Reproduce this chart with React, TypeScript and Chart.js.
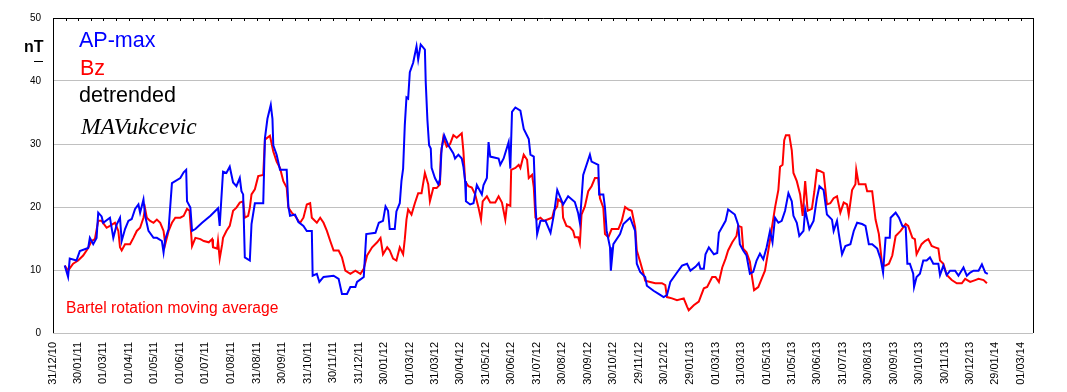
import React, { useEffect, useRef } from "react";
import { Chart, registerables } from "chart.js";

Chart.register(...registerables);

// X tick labels (dd/mm/yy); tick positions are derived from these dates
const xTickLabels = [
  "31/12/10", "30/01/11", "01/03/11", "01/04/11", "01/05/11", "01/06/11", "01/07/11", "01/08/11",
  "31/08/11", "30/09/11", "31/10/11", "30/11/11", "31/12/11", "30/01/12", "01/03/12", "31/03/12",
  "30/04/12", "31/05/12", "30/06/12", "31/07/12", "30/08/12", "30/09/12", "30/10/12", "29/11/12",
  "30/12/12", "29/01/13", "01/03/13", "31/03/13", "01/05/13", "31/05/13", "30/06/13", "31/07/13",
  "30/08/13", "30/09/13", "30/10/13", "30/11/13", "30/12/13", "29/01/14", "01/03/14",
];

const yTicks = [0, 10, 20, 30, 40, 50];

// Days since 31/12/2010
const apDays = [
  14, 18, 20, 28, 32, 42, 44, 48, 52, 54, 58, 60, 68, 72, 76, 80, 82, 86, 90, 94, 98, 102, 104, 108, 110, 114,
  120, 124, 130, 132, 134, 138, 142, 152, 156, 159, 160, 164, 166, 170, 178, 188, 197, 199, 203, 207, 211, 215,
  219, 223, 225, 227, 229, 235, 237, 241, 251, 253, 256, 260, 262, 263, 267, 271, 279, 281, 283, 289, 293, 299,
  303, 309, 310, 315, 318, 323, 335, 341, 345, 351, 355, 361, 363, 371, 374, 385, 389, 394, 397, 400, 402, 408,
  410, 414, 416, 418, 420, 422, 424, 426, 430, 432, 434, 436, 439, 444, 445, 447, 449, 451, 452, 456, 460, 462,
  464, 467, 472, 478, 480, 484, 488, 490, 492, 493, 498, 502, 506, 512, 514, 518, 520, 522, 532, 534, 538, 544,
  546, 548, 552, 558, 562, 568, 570, 574, 576, 578, 582, 588, 594, 598, 602, 606, 609, 615, 623, 627, 629, 633,
  641, 643, 651, 652, 657, 659, 661, 665, 666, 669, 677, 681, 689, 695, 697, 701, 707, 709, 717, 723, 729, 733,
  737, 745, 751, 757, 761, 767, 771, 773, 777, 779, 783, 789, 793, 795, 803, 806, 814, 818, 820, 824, 828, 832,
  836, 840, 844, 848, 852, 856, 859, 862, 866, 870, 874, 878, 882, 884, 888, 891, 896, 898, 900, 903, 908, 912,
  915, 920, 924, 930, 932, 936, 938, 942, 946, 952, 956, 960, 966, 970, 974, 978, 984, 988, 991, 994, 999, 1000,
  1006, 1010, 1014, 1018, 1020, 1023, 1027, 1028, 1031, 1035, 1039, 1043, 1047, 1051, 1057, 1059, 1063, 1067,
  1071, 1077, 1081, 1087, 1091, 1095, 1099, 1105, 1109, 1113, 1116,
];
const apMax = [
  10.7, 8.9, 11.8, 11.5, 13.0, 13.5, 15.1, 14.1, 15.1, 19.1, 18.5, 17.5, 18.3, 15.1, 17.2, 18.3, 14.6, 16.5, 17.8,
  18.1, 19.7, 20.4, 19.1, 21.2, 18.6, 16.2, 15.1, 15.1, 14.6, 12.8, 14.9, 16.5, 23.8, 24.6, 25.5, 25.9, 20.9, 19.9,
  16.2, 16.5, 17.5, 18.6, 19.8, 17.0, 25.6, 25.4, 26.4, 23.9, 23.3, 24.6, 22.5, 22.0, 12.0, 11.5, 17.3, 20.6, 20.6,
  30.9, 34.0, 36.2, 34.0, 29.8, 28.3, 25.9, 25.9, 20.1, 18.6, 18.8, 17.6, 17.0, 16.2, 16.2, 9.1, 9.4, 8.1, 8.9,
  9.1, 8.6, 6.2, 6.2, 7.3, 7.3, 8.1, 8.9, 15.7, 15.9, 17.5, 17.8, 20.1, 19.4, 16.5, 16.5, 19.3, 20.6, 24.1, 26.1,
  33.0, 37.4, 37.2, 41.4, 42.9, 44.2, 45.5, 43.4, 45.8, 45.0, 39.8, 33.8, 29.8, 29.3, 26.2, 24.6, 23.6, 24.4, 29.3,
  31.4, 29.8, 28.5, 27.7, 28.3, 27.7, 26.4, 24.1, 20.9, 20.4, 20.6, 23.5, 22.0, 23.5, 24.6, 30.3, 28.0, 27.7, 26.7,
  27.7, 30.3, 26.1, 35.1, 35.8, 35.3, 32.4, 30.8, 28.3, 28.0, 20.4, 15.7, 17.8, 17.8, 15.9, 18.8, 22.7, 21.4, 20.4,
  21.7, 20.8, 19.0, 17.5, 25.1, 28.3, 27.2, 26.7, 22.0, 22.0, 19.9, 16.2, 13.6, 9.9, 14.1, 15.7, 17.3, 18.3, 16.2,
  11.0, 9.7, 8.9, 7.5, 6.7, 6.2, 5.7, 6.0, 8.1, 9.6, 10.7, 11.0, 9.9, 10.5, 11.1, 10.2, 10.2, 12.5, 13.6, 12.5,
  12.7, 15.9, 17.8, 19.6, 18.8, 17.2, 14.1, 13.1, 12.3, 9.4, 9.7, 11.5, 12.6, 11.7, 13.6, 16.2, 14.4, 18.3, 17.5,
  17.8, 19.4, 22.2, 20.9, 18.6, 17.5, 15.4, 16.2, 19.6, 18.3, 16.5, 17.8, 21.4, 23.3, 22.7, 18.8, 18.0, 16.2, 17.8,
  15.9, 12.5, 13.8, 14.1, 16.2, 17.5, 17.3, 17.0, 14.1, 14.1, 13.4, 11.8, 9.6, 15.1, 15.1, 18.3, 19.1, 18.3, 17.0,
  16.8, 11.0, 11.0, 9.4, 7.3, 8.9, 9.4, 11.5, 11.5, 12.0, 11.0, 11.0, 9.2, 10.7, 9.2, 9.9, 9.9, 9.1, 10.4, 9.1,
  9.6, 9.9, 9.9, 10.9, 9.6, 9.4,
];

const bzDays = [
  14, 18, 24, 30, 36, 42, 46, 50, 54, 58, 64, 68, 74, 78, 80, 82, 86, 92, 96, 100, 104, 108, 110, 112, 116, 120,
  124, 128, 132, 134, 138, 142, 146, 152, 156, 160, 163, 166, 170, 176, 180, 186, 190, 191, 196, 197, 199, 202,
  203, 207, 211, 215, 219, 223, 227, 229, 233, 235, 237, 241, 245, 251, 253, 259, 263, 267, 271, 275, 279, 281,
  285, 289, 293, 295, 299, 303, 307, 309, 315, 319, 323, 327, 331, 335, 341, 345, 349, 355, 361, 367, 371, 375,
  381, 387, 391, 394, 399, 402, 406, 410, 414, 418, 420, 422, 424, 428, 432, 436, 440, 444, 448, 450, 454, 458,
  462, 463, 466, 470, 474, 478, 482, 488, 490, 492, 496, 500, 504, 508, 511, 513, 518, 522, 528, 532, 536, 540,
  542, 546, 547, 552, 556, 558, 562, 566, 568, 572, 574, 576, 578, 582, 586, 592, 596, 598, 602, 603, 608, 609,
  613, 617, 621, 623, 627, 629, 631, 635, 639, 643, 647, 651, 653, 657, 659, 663, 667, 675, 679, 683, 687, 691,
  695, 697, 701, 705, 707, 713, 719, 727, 731, 733, 739, 745, 753, 757, 759, 765, 771, 777, 781, 787, 791, 795,
  799, 803, 806, 811, 816, 818, 822, 824, 828, 832, 834, 837, 842, 846, 850, 854, 858, 862, 866, 868, 871, 873,
  875, 879, 882, 884, 888, 892, 895, 898, 901, 906, 909, 912, 916, 920, 924, 928, 932, 936, 940, 944, 948, 950,
  954, 958, 959, 962, 970, 972, 978, 982, 986, 990, 994, 998, 1002, 1006, 1012, 1018, 1021, 1026, 1029, 1031,
  1037, 1041, 1045, 1049, 1053, 1057, 1059, 1063, 1067, 1073, 1079, 1085, 1089, 1095, 1101, 1105, 1111, 1115,
];
const bz = [
  10.7, 9.9, 11.0, 11.5, 12.3, 13.5, 14.6, 14.9, 17.8, 17.8, 16.7, 17.0, 17.5, 16.2, 13.6, 13.1, 14.1, 14.1, 15.1,
  16.2, 16.7, 18.3, 19.7, 18.3, 17.8, 17.5, 18.0, 17.5, 16.2, 14.1, 16.2, 17.5, 18.3, 18.3, 18.6, 19.7, 19.4, 13.8,
  15.1, 14.9, 14.6, 14.4, 14.9, 13.6, 13.4, 14.6, 11.8, 14.1, 15.1, 16.2, 17.0, 19.4, 19.9, 20.7, 20.9, 18.3, 18.6,
  19.9, 22.0, 22.8, 24.9, 25.1, 30.7, 31.3, 28.8, 27.2, 26.2, 24.1, 23.1, 19.9, 19.1, 18.6, 17.8, 17.5, 18.3, 20.4,
  20.6, 18.3, 17.5, 18.3, 17.5, 16.2, 14.6, 13.1, 13.1, 12.0, 9.9, 9.4, 9.9, 9.4, 10.2, 12.3, 13.6, 14.4, 15.1,
  12.5, 13.6, 13.1, 11.8, 11.5, 13.6, 12.5, 14.9, 18.0, 19.6, 18.8, 20.6, 22.2, 22.2, 25.4, 23.6, 20.9, 23.0, 23.0,
  23.6, 28.3, 31.1, 29.6, 30.0, 31.4, 31.0, 31.7, 28.8, 24.1, 23.3, 23.1, 22.0, 19.9, 18.0, 20.9, 21.7, 20.7, 20.7,
  21.7, 20.7, 18.0, 20.4, 20.2, 25.9, 26.2, 26.7, 26.2, 28.3, 27.5, 24.6, 25.1, 23.1, 18.3, 18.0, 18.3, 17.8, 18.1,
  18.3, 19.4, 20.1, 21.2, 20.7, 18.3, 17.0, 16.8, 16.2, 15.2, 15.2, 14.2, 18.8, 20.1, 22.5, 23.3, 24.6, 24.6, 21.4,
  19.9, 15.7, 15.2, 16.5, 16.5, 17.8, 20.0, 19.6, 19.4, 16.8, 13.1, 11.3, 9.4, 8.3, 8.1, 7.9, 7.9, 7.6, 5.7, 5.5,
  5.2, 5.5, 4.2, 3.6, 4.4, 5.0, 7.1, 7.3, 8.9, 8.9, 8.1, 10.4, 11.8, 13.1, 14.4, 15.4, 17.0, 16.8, 13.4, 12.8, 11.3,
  9.4, 6.8, 7.3, 8.6, 9.9, 13.1, 16.5, 19.9, 22.7, 26.4, 26.7, 30.6, 31.4, 31.4, 29.0, 25.4, 24.1, 22.0, 18.6, 24.1,
  19.4, 19.7, 22.5, 25.9, 25.7, 25.4, 20.4, 20.6, 21.4, 21.7, 19.1, 20.7, 20.4, 18.8, 22.7, 23.6, 25.9, 23.6, 23.6,
  22.5, 22.5, 18.0, 15.7, 10.7, 10.7, 11.0, 12.3, 15.4, 16.2, 17.3, 17.0, 15.1, 14.9, 12.5, 14.1, 14.6, 14.9, 13.8,
  13.6, 13.4, 11.5, 11.0, 9.2, 8.4, 7.9, 7.9, 8.6, 8.1, 8.4, 8.6, 8.4, 7.9,
];

const X_MIN = 0;
const X_MAX = 1170;

function dayOf(label: string): number {
  const [d, m, y] = label.split("/").map((s) => parseInt(s, 10));
  const t = Date.UTC(2000 + y, m - 1, d);
  const t0 = Date.UTC(2010, 11, 31);
  return Math.round((t - t0) / 86400000);
}

const xTickDays = xTickLabels.map(dayOf);

const annotationPlugin = {
  id: "annotations",
  afterDraw(chart: any) {
    const { ctx, chartArea } = chart;
    const { left, right, top, bottom } = chartArea;
    ctx.save();
    ctx.strokeStyle = "#000";
    ctx.lineWidth = 1;
    ctx.beginPath();
    ctx.moveTo(left + 0.5, top);
    ctx.lineTo(left + 0.5, bottom);
    ctx.moveTo(right + 0.5, top);
    ctx.lineTo(right + 0.5, bottom);
    ctx.moveTo(left, top + 0.5);
    ctx.lineTo(right + 1, top + 0.5);
    ctx.stroke();
    // small ticks along the top, at tick positions and midpoints
    const xs = chart.scales.x;
    ctx.beginPath();
    for (let i = 0; i < xTickDays.length; i++) {
      const p = Math.round(xs.getPixelForValue(xTickDays[i])) + 0.5;
      ctx.moveTo(p, top);
      ctx.lineTo(p, top + 3);
      if (i < xTickDays.length - 1) {
        const q = Math.round(xs.getPixelForValue((xTickDays[i] + xTickDays[i + 1]) / 2)) + 0.5;
        ctx.moveTo(q, top);
        ctx.lineTo(q, top + 3);
      }
    }
    ctx.stroke();

    ctx.fillStyle = "#000";
    ctx.font = "bold 16px 'Liberation Sans', Arial, sans-serif";
    ctx.textAlign = "left";
    ctx.textBaseline = "alphabetic";
    ctx.fillText("nT", 24, 52);
    ctx.fillRect(34, 61, 9, 1);

    ctx.font = "21.5px 'Liberation Sans', Arial, sans-serif";
    ctx.fillStyle = "#0000ff";
    ctx.fillText("AP-max", 79, 47);
    ctx.fillStyle = "#ff0000";
    ctx.fillText("Bz", 80, 75);
    ctx.fillStyle = "#000";
    ctx.fillText("detrended", 79, 102);
    ctx.font = "italic 23.5px 'Liberation Serif', 'DejaVu Serif', serif";
    ctx.fillText("MAVukcevic", 81, 134);

    ctx.font = "15.6px 'Liberation Sans', Arial, sans-serif";
    ctx.fillStyle = "#ff0000";
    ctx.fillText("Bartel rotation moving average", 66, 313);
    ctx.restore();
  },
};

export default function App() {
  const canvasRef = useRef<HTMLCanvasElement | null>(null);

  useEffect(() => {
    const canvas = canvasRef.current;
    if (!canvas) return;
    const chart = new Chart(canvas, {
      type: "line",
      data: {
        datasets: [
          {
            label: "AP-max",
            data: apDays.map((d, i) => ({ x: d, y: apMax[i] })),
            borderColor: "#0000ff",
            backgroundColor: "#0000ff",
            borderWidth: 2,
            pointRadius: 0,
            tension: 0,
          },
          {
            label: "Bz",
            data: bzDays.map((d, i) => ({ x: d, y: bz[i] })),
            borderColor: "#ff0000",
            backgroundColor: "#ff0000",
            borderWidth: 2,
            pointRadius: 0,
            tension: 0,
          },
        ],
      },
      options: {
        responsive: false,
        animation: false,
        devicePixelRatio: 1,
        layout: { padding: { top: 15, right: 34, left: 0, bottom: 0 } },
        plugins: {
          legend: { display: false },
          tooltip: { enabled: false },
          title: { display: false },
        },
        scales: {
          x: {
            type: "linear",
            min: X_MIN,
            max: X_MAX,
            afterBuildTicks: (scale: any) => {
              scale.ticks = xTickDays.map((v) => ({ value: v }));
            },
            afterFit: (scale: any) => {
              scale.height = 59;
            },
            grid: { display: false, drawTicks: false },
            border: { display: false },
            ticks: {
              autoSkip: false,
              maxRotation: 90,
              minRotation: 90,
              padding: 9,
              color: "#000",
              font: { family: "'Liberation Sans', Arial, sans-serif", size: 11 },
              callback: (value: any) => {
                const idx = xTickDays.indexOf(Number(value));
                return idx >= 0 ? xTickLabels[idx] : "";
              },
            },
          },
          y: {
            type: "linear",
            min: 0,
            max: 50,
            afterBuildTicks: (scale: any) => {
              scale.ticks = yTicks.map((v) => ({ value: v }));
            },
            afterFit: (scale: any) => {
              scale.width = 53;
            },
            grid: {
              drawTicks: false,
              color: "#c0c0c0",
              lineWidth: 1,
            },
            border: { display: false },
            ticks: {
              padding: 12,
              color: "#000",
              font: { family: "'Liberation Sans', Arial, sans-serif", size: 10 },
            },
          },
        },
      },
      plugins: [annotationPlugin],
    } as any);
    return () => chart.destroy();
  }, []);

  return (
    <div style={{ position: "fixed", left: 0, top: 0, width: 1067, height: 392, background: "#fff" }}>
      <canvas ref={canvasRef} width={1067} height={392} style={{ display: "block" }} />
    </div>
  );
}
